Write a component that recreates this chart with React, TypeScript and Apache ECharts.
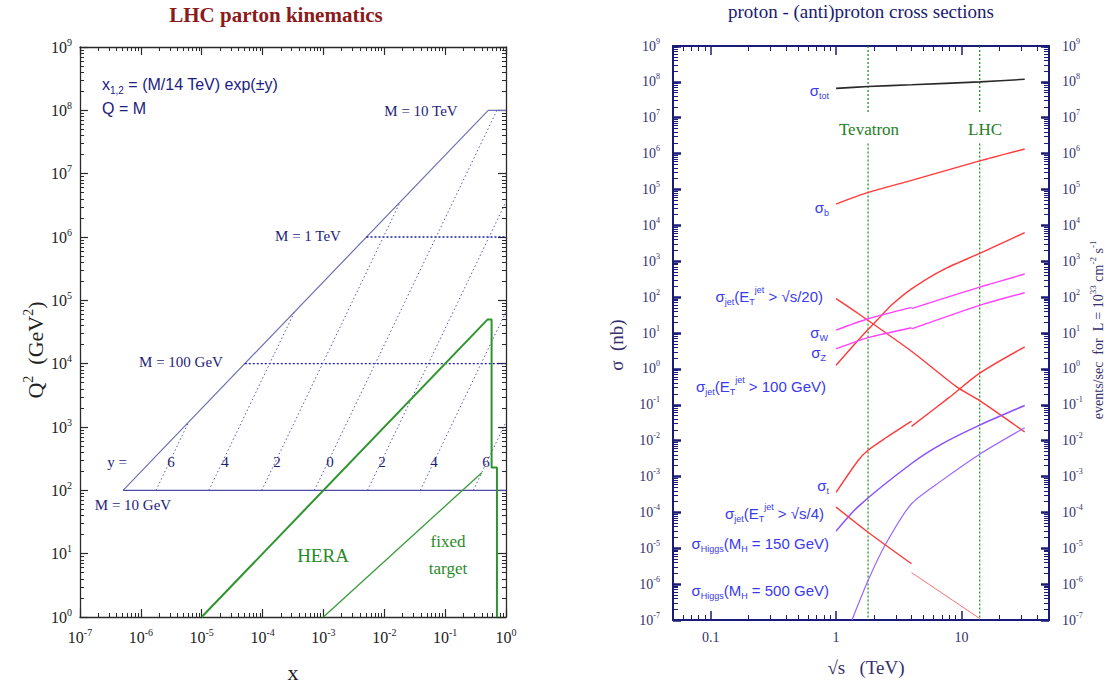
import { useEffect, useRef } from 'react';
import * as echarts from 'echarts';

// ---------------- Left panel: LHC parton kinematics ----------------
const leftXTicks = [1e-7, 1e-6, 1e-5, 1e-4, 1e-3, 1e-2, 1e-1, 1];
const leftYTicks = [1, 1e1, 1e2, 1e3, 1e4, 1e5, 1e6, 1e7, 1e8, 1e9];

const kinematicLimit = [[5.1e-7, 1e2], [0.51, 1e8], [1, 1e8]];
const massLine10GeV = [[5.1e-7, 1e2], [1, 1e2]];
const massLine100GeV = [[5.1e-5, 1e4], [1, 1e4]];
const massLine1TeV = [[5.1e-3, 1e6], [1, 1e6]];
const rapidityLabels = ['6', '4', '2', '0', '2', '4', '6'];
const rapidityStartX = [1.77e-6, 1.31e-5, 9.7e-5, 7.1e-4, 5.3e-3, 3.9e-2, 0.29];
const rapidityStartQ2 = [1e2, 1e2, 1e2, 1e2, 1e2, 1e2, 1e2];
const rapidityEndX = [6.1e-6, 3.35e-4, 1.83e-2, 0.71, 1, 1, 1];
const rapidityEndQ2 = [1.2e3, 6.6e4, 3.6e6, 1e8, 3.6e6, 6.6e4, 1.2e3];
const heraLimit = [[1e-5, 1], [0.5, 5e4], [0.58, 5e4], [0.58, 230], [0.71, 230], [0.71, 1]];
const fixedTargetLimit = [[1e-3, 1], [0.4, 190]];

// ---------------- Right panel: proton-(anti)proton cross sections ----------------
const rightXTicks = [0.1, 1, 10];
const rightYTicks = [1e-7, 1e-6, 1e-5, 1e-4, 1e-3, 1e-2, 1e-1, 1, 1e1, 1e2, 1e3, 1e4, 1e5, 1e6, 1e7, 1e8, 1e9];
const colliderNames = ['Tevatron', 'LHC'];
const colliderSqrtS = [1.8, 14];

const sqrtsTot = [1, 1.8, 4, 14, 32];
const sigmaTot = [6.6e7, 7.4e7, 8.3e7, 1.0e8, 1.18e8];
const sqrtsB = [1, 1.8, 4, 14, 32];
const sigmaB = [3.9e4, 8.3e4, 1.8e5, 6.3e5, 1.35e6];
const sqrtsJet100 = [1, 1.5, 2.2, 2.8, 4, 7, 14, 32];
const sigmaJet100 = [1.26, 6.3, 26, 62, 170, 560, 1660, 6300];
const sqrtsJet20 = [1, 1.5, 4, 9.1, 14, 32];
const sigmaJet20 = [91, 35, 3.1, 0.32, 0.13, 0.0174];
const sqrtsWppbar = [1, 1.8, 4];
const sigmaWppbar = [12, 25, 52];
const sqrtsWpp = [4, 14, 32];
const sigmaWpp = [48, 190, 440];
const sqrtsZppbar = [1, 1.8, 4];
const sigmaZppbar = [3.6, 7.4, 14];
const sqrtsZpp = [4, 14, 32];
const sigmaZpp = [13, 59, 132];
const sqrtsTopPpbar = [1, 1.5, 1.8, 2.5, 4];
const sigmaTopPpbar = [3.6e-4, 2.8e-3, 5.4e-3, 1.2e-2, 3.5e-2];
const sqrtsTopPp = [4, 8, 14, 32];
const sigmaTopPp = [0.025, 0.16, 0.76, 4.1];
const sqrtsH150 = [1, 1.5, 4, 7, 14, 32];
const sigmaH150 = [3.0e-5, 1.45e-4, 2.3e-3, 8.1e-3, 2.7e-2, 9.5e-2];
const sqrtsH500 = [1.34, 1.8, 2.5, 4, 7, 14, 32];
const sigmaH500 = [1e-7, 1.26e-6, 1.35e-5, 1.74e-4, 7.8e-4, 4.2e-3, 2.3e-2];
const sqrtsJet4ppbar = [1, 1.8, 4];
const sigmaJet4ppbar = [1.4e-4, 2.8e-5, 3.7e-6];
const sqrtsJet4pp = [4, 14];
const sigmaJet4pp = [2.1e-6, 1.1e-7];

// ---------------- helpers ----------------
const SERIF = '"Liberation Serif", "DejaVu Serif", serif';
const SANS = '"Liberation Sans", Arial, sans-serif';

const pairs = (xs: number[], ys: number[]) => xs.map((x, i) => [x, ys[i]]);

function minorValues(lo: number, hi: number) {
  const out: number[] = [];
  const e0 = Math.floor(Math.log10(lo));
  const e1 = Math.ceil(Math.log10(hi));
  for (let e = e0; e <= e1; e++) {
    for (let k = 2; k <= 9; k++) {
      const v = k * Math.pow(10, e);
      if (v > lo * 1.0001 && v < hi * 0.9999) out.push(v);
    }
  }
  return out;
}

type AxisCfg = {
  color: string;
  lineWidth: number;
  majorLen: number;
  majorWidth: number;
  minorLen: number;
  labelSides: string[];
  formatter: (v: number) => string;
  rich: any;
  margin: number;
  labelColor: string;
  fontSize: number;
};

function axisSet(dim: 'x' | 'y', gridIndex: number, min: number, max: number, majors: number[], cfg: AxisCfg) {
  const positions = dim === 'x' ? ['bottom', 'top'] : ['left', 'right'];
  const minors = minorValues(min, max);
  const list: any[] = [];
  positions.forEach((pos) => {
    list.push({
      type: 'log', logBase: 10, gridIndex, min, max, position: pos,
      axisLine: { show: true, onZero: false, lineStyle: { color: cfg.color, width: cfg.lineWidth } },
      axisTick: { show: true, inside: true, length: cfg.majorLen, customValues: majors, lineStyle: { color: cfg.color, width: cfg.majorWidth } },
      axisLabel: {
        show: cfg.labelSides.includes(pos), customValues: majors, formatter: cfg.formatter, rich: cfg.rich,
        margin: cfg.margin, color: cfg.labelColor, fontFamily: SERIF, fontSize: cfg.fontSize,
        showMinLabel: true, showMaxLabel: true,
      },
      splitLine: { show: false }, minorTick: { show: false }, minorSplitLine: { show: false },
    });
    list.push({
      type: 'log', logBase: 10, gridIndex, min, max, position: pos,
      axisLine: { show: false, onZero: false },
      axisTick: { show: true, inside: true, length: cfg.minorLen, customValues: minors, lineStyle: { color: cfg.color, width: 1 } },
      axisLabel: { show: false },
      splitLine: { show: false }, minorTick: { show: false }, minorSplitLine: { show: false },
    });
  });
  return list;
}

const powFormatter = (v: number) => `{b|10}{e|${Math.round(Math.log10(v))}}`;
const powRich = (size: number, color: string) => ({
  b: { fontSize: size, fontFamily: SERIF, color, lineHeight: size + 4 },
  e: { fontSize: Math.round(size * 0.6), fontFamily: SERIF, color, verticalAlign: 'top', lineHeight: Math.round(size * 0.6) + 1 },
});

function line(data: any[], color: string, width: number, opts: any = {}) {
  return {
    type: 'line', data, symbol: 'none', silent: true,
    xAxisIndex: opts.grid === 1 ? 4 : 0, yAxisIndex: opts.grid === 1 ? 4 : 0,
    smooth: opts.smooth ?? false,
    lineStyle: { color, width, type: opts.dash ?? 'solid' },
    z: opts.z ?? 2,
  };
}

function txt(x: number, y: number, text: string, o: any) {
  const style: any = {
    text, fill: o.color, fontFamily: o.family ?? SERIF, fontSize: o.size, fontWeight: o.weight ?? 'normal',
    align: o.align ?? 'center', verticalAlign: 'middle', textAlign: o.align ?? 'center', textVerticalAlign: 'middle',
  };
  if (o.rich) style.rich = o.rich;
  return { type: 'text', x, y, rotation: o.rotation ?? 0, silent: true, z: 50, style };
}

function richSet(size: number, color: string, family: string) {
  const sub = Math.round(size * 0.62);
  return {
    g: { fontSize: size, fontFamily: family, fill: color, color, lineHeight: size + 6 },
    n: { fontSize: size, fontFamily: family, fill: color, color, lineHeight: size + 6 },
    s: { fontSize: sub, fontFamily: family, fill: color, color, verticalAlign: 'bottom', lineHeight: sub + 1 },
    p: { fontSize: sub, fontFamily: family, fill: color, color, verticalAlign: 'top', lineHeight: sub + 1 },
  };
}

function buildOption() {
  const leftColor = '#2a2a2a';
  const navy = '#1b1b7a';
  const labelNavy = '#34306e';
  const blue = '#3a3aec';
  const green = '#1f801f';

  const leftX = axisSet('x', 0, 1e-7, 1, leftXTicks, {
    color: leftColor, lineWidth: 1.3, majorLen: 8, majorWidth: 1.2, minorLen: 4, labelSides: ['bottom'],
    formatter: powFormatter, rich: powRich(16, '#222'), margin: 10, labelColor: '#222', fontSize: 16,
  });
  const leftY = axisSet('y', 0, 1, 1e9, leftYTicks, {
    color: leftColor, lineWidth: 1.3, majorLen: 8, majorWidth: 1.2, minorLen: 4, labelSides: ['left'],
    formatter: powFormatter, rich: powRich(16, '#222'), margin: 8, labelColor: '#222', fontSize: 16,
  });
  const rightX = axisSet('x', 1, 0.05, 50, rightXTicks, {
    color: navy, lineWidth: 2, majorLen: 9, majorWidth: 1.5, minorLen: 5, labelSides: ['bottom'],
    formatter: (v: number) => `{b|${v}}`, rich: powRich(14, labelNavy), margin: 8, labelColor: labelNavy, fontSize: 14,
  });
  const rightY = axisSet('y', 1, 1e-7, 1e9, rightYTicks, {
    color: navy, lineWidth: 2, majorLen: 8, majorWidth: 2.5, minorLen: 5, labelSides: ['left', 'right'],
    formatter: powFormatter, rich: powRich(14, labelNavy), margin: 13, labelColor: labelNavy, fontSize: 14,
  });

  const series: any[] = [];
  // left panel
  series.push(line(kinematicLimit, '#7070b4', 1.2));
  series.push(line(massLine10GeV, '#4c4ca4', 1.2));
  series.push(line(massLine100GeV, '#1e1e9c', 1.3, { dash: [2, 2] }));
  series.push(line(massLine1TeV, '#1e1e9c', 1.3, { dash: [2, 2] }));
  rapidityLabels.forEach((_, i) => {
    series.push(line([[rapidityStartX[i], rapidityStartQ2[i]], [rapidityEndX[i], rapidityEndQ2[i]]], '#5a5ab4', 1, { dash: [1.5, 2.5] }));
  });
  series.push(line(heraLimit, '#2e952e', 2, { z: 3 }));
  series.push(line(fixedTargetLimit, '#3c9a3c', 1.3, { z: 3 }));

  // right panel
  const G = { grid: 1 };
  const sm = { grid: 1, smooth: 0.25 };
  colliderSqrtS.forEach((e) => {
    series.push(line([[e, 1e9], [e, 1.3e7]], '#128a12', 1.2, { grid: 1, dash: [2, 2] }));
    series.push(line([[e, 1.9e6], [e, 1e-7]], '#128a12', 1.2, { grid: 1, dash: [2, 2] }));
  });
  series.push(line(pairs(sqrtsTot, sigmaTot), '#2a2a2a', 1.6, sm));
  series.push(line(pairs(sqrtsB, sigmaB), '#ff3a3a', 1.4, sm));
  series.push(line(pairs(sqrtsJet100, sigmaJet100), '#ff3a3a', 1.4, sm));
  series.push(line(pairs(sqrtsJet20, sigmaJet20), '#ff3a3a', 1.4, sm));
  series.push(line(pairs(sqrtsWppbar, sigmaWppbar), '#ff40ff', 1.4, sm));
  series.push(line(pairs(sqrtsWpp, sigmaWpp), '#ff40ff', 1.4, sm));
  series.push(line(pairs(sqrtsZppbar, sigmaZppbar), '#ff40ff', 1.4, sm));
  series.push(line(pairs(sqrtsZpp, sigmaZpp), '#ff40ff', 1.4, sm));
  series.push(line(pairs(sqrtsTopPpbar, sigmaTopPpbar), '#ff3a3a', 1.4, sm));
  series.push(line(pairs(sqrtsTopPp, sigmaTopPp), '#ff3a3a', 1.4, sm));
  series.push(line(pairs(sqrtsH150, sigmaH150), '#8a50ff', 1.5, sm));
  series.push(line(pairs(sqrtsH500, sigmaH500), '#9a66ff', 1.2, sm));
  series.push(line(pairs(sqrtsJet4ppbar, sigmaJet4ppbar), '#ff3a3a', 1.4, sm));
  series.push(line(pairs(sqrtsJet4pp, sigmaJet4pp), '#ff7070', 1.0, G));

  const lr = richSet(16, '#202080', SANS);
  const sr = richSet(15, blue, SANS);
  const yl = richSet(22, '#222', SERIF);
  const er = richSet(14, labelNavy, SERIF);

  const graphic: any[] = [
    txt(276, 15, 'LHC parton kinematics', { color: '#8b1a1a', size: 21, weight: 'bold' }),
    txt(102, 84, '{n|x}{s|1,2}{n| = (M/14 TeV) exp(±y)}', { color: '#202080', size: 16, family: SANS, align: 'left', rich: lr }),
    txt(102, 108, 'Q = M', { color: '#202080', size: 16, family: SANS, align: 'left' }),
    txt(421, 111, 'M = 10 TeV', { color: '#1e1e78', size: 15 }),
    txt(308, 236, 'M = 1 TeV', { color: '#1e1e78', size: 15 }),
    txt(181, 362, 'M = 100 GeV', { color: '#1e1e78', size: 15 }),
    txt(133, 505, 'M = 10 GeV', { color: '#1e1e78', size: 15 }),
    txt(117, 462, 'y =', { color: '#1e1e78', size: 15 }),
    txt(323, 555, 'HERA', { color: '#2a8a2a', size: 19 }),
    txt(448, 541, 'fixed', { color: '#2a8a2a', size: 17 }),
    txt(448, 568, 'target', { color: '#2a8a2a', size: 17 }),
    txt(35, 350, '{n|Q}{p|2}{n|  (GeV}{p|2}{n|)}', { color: '#222', size: 22, rotation: Math.PI / 2, rich: yl }),
    txt(293, 672, 'x', { color: '#222', size: 22 }),

    txt(861, 11, 'proton - (anti)proton cross sections', { color: '#1a1a70', size: 19 }),
    txt(616, 345, 'σ  (nb)', { color: labelNavy, size: 19, rotation: Math.PI / 2 }),
    txt(866, 667, '√s   (TeV)', { color: labelNavy, size: 19 }),
    txt(1098, 330, '{n|events/sec  for  L = 10}{p|33}{n| cm}{p|-2}{n| s}{p|-1}', { color: labelNavy, size: 14, rotation: Math.PI / 2, rich: er }),

    txt(829, 90, '{g|σ}{s|tot}', { color: blue, size: 15, family: SANS, align: 'right', rich: sr }),
    txt(829, 207, '{g|σ}{s|b}', { color: blue, size: 15, family: SANS, align: 'right', rich: sr }),
    txt(823, 296, '{g|σ}{s|jet}{n|(E}{s|T}{p|jet}{n| > √s/20)}', { color: blue, size: 15, family: SANS, align: 'right', rich: sr }),
    txt(828, 332, '{g|σ}{s|W}', { color: blue, size: 15, family: SANS, align: 'right', rich: sr }),
    txt(826, 352, '{g|σ}{s|Z}', { color: blue, size: 15, family: SANS, align: 'right', rich: sr }),
    txt(826, 386, '{g|σ}{s|jet}{n|(E}{s|T}{p|jet}{n| > 100 GeV)}', { color: blue, size: 15, family: SANS, align: 'right', rich: sr }),
    txt(829, 485, '{g|σ}{s|t}', { color: blue, size: 15, family: SANS, align: 'right', rich: sr }),
    txt(824, 513, '{g|σ}{s|jet}{n|(E}{s|T}{p|jet}{n| > √s/4)}', { color: blue, size: 15, family: SANS, align: 'right', rich: sr }),
    txt(829, 543, '{g|σ}{s|Higgs}{n|(M}{s|H}{n| = 150 GeV)}', { color: blue, size: 15, family: SANS, align: 'right', rich: sr }),
    txt(829, 590, '{g|σ}{s|Higgs}{n|(M}{s|H}{n| = 500 GeV)}', { color: blue, size: 15, family: SANS, align: 'right', rich: sr }),
  ];
  // rapidity labels along y = ... row
  const rapidityLabelX = [171, 225, 277, 330, 382, 434, 486];
  rapidityLabels.forEach((t, i) => graphic.push(txt(rapidityLabelX[i], 462, t, { color: '#1e1e78', size: 15 })));
  // collider labels
  const colliderLabelX = [869, 985];
  colliderNames.forEach((t, i) => graphic.push(txt(colliderLabelX[i], 129, t, { color: green, size: 17 })));

  return {
    animation: false,
    backgroundColor: '#ffffff',
    grid: [
      { left: 80, top: 47, width: 426, height: 570 },
      { left: 673, top: 46, width: 376, height: 574 },
    ],
    xAxis: [...leftX, ...rightX],
    yAxis: [...leftY, ...rightY],
    series,
    graphic,
  };
}

export default function App() {
  const ref = useRef<HTMLDivElement>(null);
  useEffect(() => {
    const chart = echarts.init(ref.current!, undefined, { renderer: 'svg' });
    chart.setOption(buildOption() as any);
    return () => chart.dispose();
  }, []);
  return <div ref={ref} style={{ position: 'fixed', left: 0, top: 0, width: 1110, height: 686, background: '#fff' }} />;
}
